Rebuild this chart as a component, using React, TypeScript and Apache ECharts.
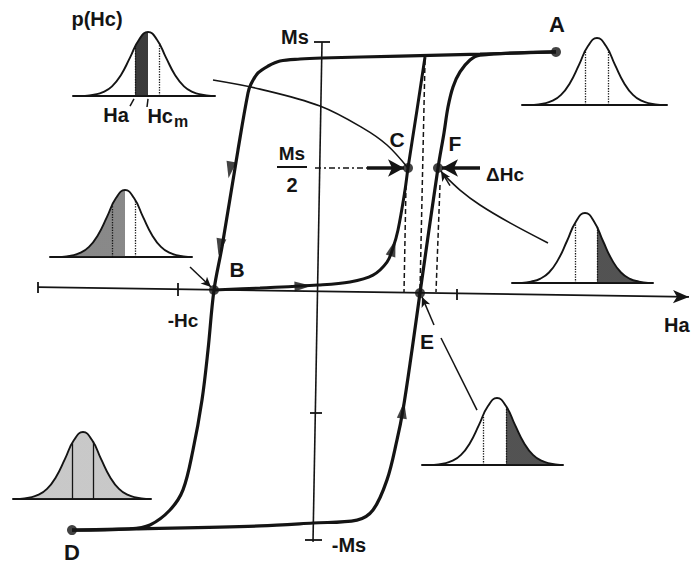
import React, { useEffect, useRef } from "react";
import * as echarts from "echarts";

// ---- Main hysteresis diagram: H in reduced units (0 on the M axis), M in units of Ms ----
const descendingH = [2.38, 1.62, 0.82, 0.04, -0.18, -0.38, -0.5, -0.6, -0.67, -0.7, -0.8, -0.96, -1.04, -1.1, -1.16, -1.25, -1.35, -1.48, -1.68, -1.88, -2.46];
const descendingM = [0.976, 0.967, 0.959, 0.951, 0.947, 0.939, 0.918, 0.89, 0.845, 0.808, 0.576, 0.18, 0.004, -0.241, -0.445, -0.649, -0.812, -0.894, -0.955, -0.971, -0.976];
const ascendingH = [-2.46, -1.88, -0.58, -0.05, 0.39, 0.55, 0.69, 0.79, 0.85, 0.94, 1.02, 1.2, 1.26, 1.3, 1.35, 1.42, 1.52, 1.62, 2.38];
const ascendingM = [-0.976, -0.971, -0.959, -0.947, -0.935, -0.894, -0.771, -0.608, -0.486, -0.241, -0.008, 0.502, 0.645, 0.751, 0.833, 0.894, 0.943, 0.963, 0.976];
const recoilH = [-1.04, -0.58, 0.0, 0.32, 0.55, 0.69, 0.75, 0.8, 0.87, 0.9, 0.99, 1.07];
const recoilM = [0.004, 0.012, 0.024, 0.037, 0.065, 0.118, 0.176, 0.249, 0.412, 0.502, 0.739, 0.955];
const hcCurveH = [-1.05, -0.58, 0.02, 0.45, 0.69, 0.9];
const hcCurveM = [0.861, 0.824, 0.755, 0.665, 0.596, 0.502];
const hcTailH = [1.25, 1.42, 1.62, 1.92, 2.3];
const hcTailM = [0.478, 0.412, 0.351, 0.278, 0.196];

const pointNames = ["A", "B", "C", "F", "E", "D"];
const pointH = [2.38, -1.04, 0.9, 1.2, 1.02, -2.46];
const pointM = [0.976, 0.004, 0.502, 0.502, -0.008, -0.976];

const flowArrowH = [-0.88, -0.98, -0.15, 0.75, 0.85];
const flowArrowM = [0.494, 0.18, 0.02, 0.176, -0.486];
const flowArrowRot = [170, 170, -88, -17, -8];

// segments [h1, m1, h2, m2]
const axisH = [-2.8, 0.016, 3.71, -0.024];
const axisM = [0.04, 1.016, -0.05, -1.024];
const tickSegs = [
  [-2.8, 0.037, -2.8, -0.008],
  [-1.4, 0.033, -1.4, -0.02],
  [1.39, 0.008, 1.39, -0.037],
  [-0.04, 1.016, 0.12, 1.016],
  [-0.13, -1.016, 0.04, -1.016],
  [-0.08, -0.498, 0.04, -0.498],
];
const dashedGuides = [
  [0.88, 0.433, 0.86, -0.004],
  [1.22, 0.433, 1.18, -0.004],
  [1.07, 0.943, 1.02, 0.004],
];
const halfMsGuide = [-0.03, 0.502, 0.82, 0.502];
const thickArrows = [
  [0.49, 0.502, 0.86, 0.502],
  [1.62, 0.502, 1.24, 0.502],
];
const thinArrows = [
  [-1.28, 0.098, -1.07, 0.016],
  [1.16, -0.139, 1.04, -0.024],
  [1.32, 0.43, 1.23, 0.49],
];
const thinSegs = [
  [1.23, -0.192, 1.59, -0.486],
  [-1.88, 0.755, -1.84, 0.784],
  [-1.71, 0.751, -1.7, 0.784],
];

// ---- Switching-field distributions p(Hc): offsets in sigma, heights relative to peak ----
const bellProfileX = [-3.5, -3, -2.5, -2, -1.5, -1, -0.5, 0, 0.5, 1, 1.5, 2, 2.5, 3, 3.5];
const bellProfileY = [0, 0.02, 0.06, 0.15, 0.33, 0.6, 0.88, 1, 0.88, 0.6, 0.33, 0.15, 0.06, 0.02, 0];
const bellGuideLeft = [-0.7, -0.67, -0.72, -0.55, -0.6, -0.78];
const bellGuideRight = [0.6, 0.61, 0.56, 0.67, 0.55, 0.5];
const bellGuideLeftTop = [0.78, 0.8, 0.77, 0.86, 0.83, 0.73];
const bellGuideRightTop = [0.83, 0.82, 0.85, 0.8, 0.86, 0.87];
const bellShadeFrom = [-0.7, NaN, -3.5, 0.67, -3.5, 0.5];
const bellShadeTo = [0, NaN, 0, 3.5, 3.5, 3.5];

// layout (pixels)
const H_MIN = -3.18, H_MAX = 3.73, M_MIN = -1.1184, M_MAX = 1.1878;
const SIGMA_PX = 18;
const bellLayout = [
  { cx: 148, base: 96, peak: 32, left: 73, right: 215, top: 20, shade: "rgba(25,25,25,0.85)", guide: "dotted" },
  { cx: 597, base: 105, peak: 38, left: 522, right: 667, top: 28, shade: "", guide: "dotted" },
  { cx: 125, base: 257, peak: 190, left: 50, right: 192, top: 180, shade: "rgba(40,40,40,0.55)", guide: "dotted" },
  { cx: 585, base: 283, peak: 213, left: 512, right: 653, top: 205, shade: "rgba(25,25,25,0.75)", guide: "dotted" },
  { cx: 83, base: 499, peak: 432, left: 13, right: 151, top: 422, shade: "rgba(60,60,60,0.28)", guide: "solid" },
  { cx: 497, base: 465, peak: 398, left: 422, right: 563, top: 388, shade: "rgba(25,25,25,0.75)", guide: "dotted" },
];

export default function App() {
  const ref = useRef<HTMLDivElement>(null);
  useEffect(() => {
    if (!ref.current) return;
    const chart = echarts.init(ref.current, undefined, { renderer: "svg" });
    const ink = "#141414";
    const zip = (a: number[], b: number[]) => a.map((v, i) => [v, b[i]]);

    const grids: any[] = [{ left: 0, top: 0, right: 0, bottom: 0 }];
    const xAxes: any[] = [{ type: "value", gridIndex: 0, min: H_MIN, max: H_MAX, show: false }];
    const yAxes: any[] = [{ type: "value", gridIndex: 0, min: M_MIN, max: M_MAX, show: false }];
    const series: any[] = [];
    const visualMaps: any[] = [];

    const curve = (h: number[], m: number[], width: number) => ({
      type: "line", xAxisIndex: 0, yAxisIndex: 0, data: zip(h, m), smooth: 0.35,
      symbol: "none", silent: true, z: 3, lineStyle: { color: ink, width },
    });
    series.push(curve(descendingH, descendingM, 3.2));
    series.push(curve(ascendingH, ascendingM, 3.2));
    series.push(curve(recoilH, recoilM, 3));
    series.push(curve(hcCurveH, hcCurveM, 1.6));
    series.push(curve(hcTailH, hcTailM, 1.6));

    const seg = (s: number[], style: any, end = "none", size: any = 0) => [
      { coord: [s[0], s[1]], symbol: "none", lineStyle: style },
      { coord: [s[2], s[3]], symbol: end, symbolSize: size },
    ];
    const markData: any[] = [];
    markData.push(seg(axisH, { color: ink, width: 1.8, type: "solid" }, "arrow", [10, 16]));
    markData.push(seg(axisM, { color: ink, width: 1.6, type: "solid" }));
    tickSegs.forEach((s) => markData.push(seg(s, { color: ink, width: 1.8, type: "solid" })));
    dashedGuides.forEach((s) => markData.push(seg(s, { color: ink, width: 1.5, type: [5, 3] })));
    markData.push(seg(halfMsGuide, { color: ink, width: 1.5, type: [6, 3, 2, 3] }));
    thickArrows.forEach((s) => markData.push(seg(s, { color: ink, width: 3.5, type: "solid" }, "arrow", [13, 16])));
    thinArrows.forEach((s) => markData.push(seg(s, { color: ink, width: 1.5, type: "solid" }, "arrow", [7, 10])));
    thinSegs.forEach((s) => markData.push(seg(s, { color: ink, width: 1.5, type: "solid" })));

    series.push({
      type: "scatter", xAxisIndex: 0, yAxisIndex: 0, data: [], silent: true,
      markLine: { silent: true, animation: false, label: { show: false }, emphasis: { disabled: true }, data: markData },
    });

    series.push({
      type: "scatter", xAxisIndex: 0, yAxisIndex: 0, silent: true, z: 6,
      data: flowArrowH.map((h, i) => ({ value: [h, flowArrowM[i]], symbolRotate: flowArrowRot[i] })),
      symbol: "triangle", symbolSize: [10, 17], itemStyle: { color: ink },
    });
    series.push({
      type: "scatter", xAxisIndex: 0, yAxisIndex: 0, silent: true, z: 7,
      data: pointH.map((h, i) => ({ name: pointNames[i], value: [h, pointM[i]] })),
      symbol: "circle", symbolSize: 10, itemStyle: { color: ink },
    });

    bellLayout.forEach((b, i) => {
      const gi = grids.length;
      const yMax = (b.base - b.top) / (b.base - b.peak);
      grids.push({ left: b.left, top: b.top, width: b.right - b.left, height: b.base - b.top });
      xAxes.push({
        type: "value", gridIndex: gi, min: (b.left - b.cx) / SIGMA_PX, max: (b.right - b.cx) / SIGMA_PX,
        axisLine: { show: true, onZero: false, lineStyle: { color: ink, width: 2 } },
        axisTick: { show: false }, axisLabel: { show: false }, splitLine: { show: false },
      });
      yAxes.push({ type: "value", gridIndex: gi, min: 0, max: yMax, show: false });
      const shaded = !isNaN(bellShadeFrom[i]);
      const si = series.length;
      const gl = bellGuideLeft[i], gr = bellGuideRight[i];
      series.push({
        type: "line", xAxisIndex: gi, yAxisIndex: gi, data: zip(bellProfileX, bellProfileY),
        smooth: 0.5, symbol: "none", silent: true, z: 4,
        lineStyle: { color: ink, width: 1.9 },
        ...(shaded ? { areaStyle: { opacity: 1 } } : {}),
        markLine: {
          silent: true, animation: false, symbol: ["none", "none"], label: { show: false }, emphasis: { disabled: true },
          lineStyle: { color: ink, width: 1.7, type: "solid" },
          data: [
            [{ coord: [0, -0.06] }, { coord: [0, yMax] }],
            [{ coord: [gl, 0], lineStyle: { color: ink, width: 1.3, type: b.guide } }, { coord: [gl, bellGuideLeftTop[i]] }],
            [{ coord: [gr, 0], lineStyle: { color: ink, width: 1.3, type: b.guide } }, { coord: [gr, bellGuideRightTop[i]] }],
          ],
        },
      });
      if (shaded) {
        visualMaps.push({
          type: "piecewise", show: false, dimension: 0, seriesIndex: si,
          pieces: [{ gte: bellShadeFrom[i], lte: bellShadeTo[i], color: b.shade }],
          outOfRange: { color: "rgba(0,0,0,0)" },
        });
      }
    });

    const font = (size: number) => `bold ${size}px "Liberation Sans Narrow", "Liberation Sans", sans-serif`;
    const T = (x: number, y: number, text: string, size: number, align = "center") => ({
      type: "text", x, y, silent: true, z: 10,
      style: { text, fill: ink, font: font(size), textAlign: align, textVerticalAlign: "middle", align, verticalAlign: "middle" },
    });
    const graphic: any[] = [
      T(97, 19, "p(Hc)", 20),
      T(116, 115, "Ha", 20),
      T(173, 116, "Hc", 20, "right"),
      T(174, 121, "m", 16, "left"),
      T(295, 37, "Ms", 20),
      T(557, 24, "A", 22),
      T(237, 269, "B", 21),
      T(397, 139, "C", 21),
      T(455, 143, "F", 21),
      T(292, 153, "Ms", 19),
      T(292, 185, "2", 20),
      T(505, 174, "ΔHc", 19),
      T(183, 320, "-Hc", 19),
      T(427, 341, "E", 21),
      T(72, 552, "D", 22),
      T(349, 545, "-Ms", 20),
      T(664, 325, "Ha", 20, "left"),
      { type: "line", silent: true, shape: { x1: 277, y1: 167, x2: 307, y2: 167 }, style: { stroke: ink, lineWidth: 2 } },
    ];

    chart.setOption({
      animation: false,
      backgroundColor: "#ffffff",
      grid: grids,
      xAxis: xAxes,
      yAxis: yAxes,
      visualMap: visualMaps,
      series,
      graphic,
    });
    return () => chart.dispose();
  }, []);
  return <div ref={ref} style={{ position: "fixed", left: 0, top: 0, width: 691, height: 565, background: "#fff" }} />;
}
